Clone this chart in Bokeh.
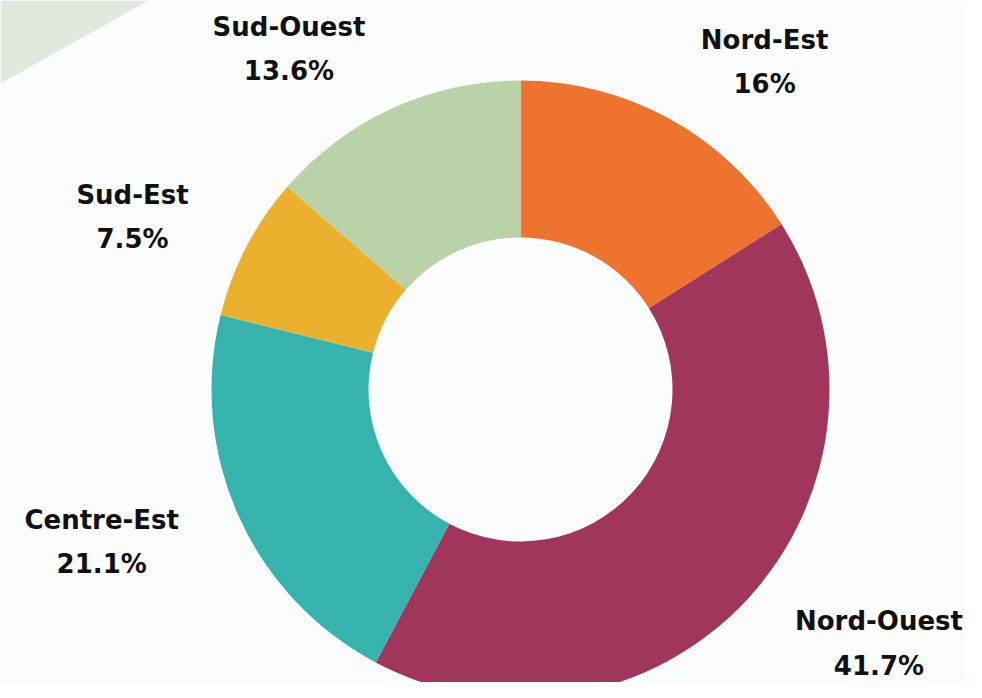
import math
from bokeh.plotting import figure
from bokeh.models import Range1d, ColumnDataSource
from bokeh.core.properties import value
from bokeh.embed import file_html
from bokeh.resources import INLINE

regions = ["Nord-Est", "Nord-Ouest", "Centre-Est", "Sud-Est", "Sud-Ouest"]
shares = [16, 41.7, 21.1, 7.5, 13.6]
colors = ["#ee732e", "#a0365b", "#36b3ad", "#ebb02d", "#b9d2a8"]

W, H = 966, 682
CX, CY = 520, 389          # pixel position of the donut centre inside the figure
R_OUT, R_IN = 309, 152
R_LABEL = 374

total = sum(shares)
starts, ends, mids = [], [], []
cum = 0.0
for v in shares:
    a0 = math.pi / 2 - 2 * math.pi * cum / total
    cum += v
    a1 = math.pi / 2 - 2 * math.pi * cum / total
    starts.append(a0)
    ends.append(a1)
    mids.append((a0 + a1) / 2)

lx = [R_LABEL * math.cos(m) for m in mids]
ly = [R_LABEL * math.sin(m) for m in mids]
anchors = ["center_left" if math.cos(m) >= 0 else "center_right" for m in mids]
labels = [f"{r}\n{v:g}%" for r, v in zip(regions, shares)]

src = ColumnDataSource(dict(start=starts, end=ends, color=colors,
                            lx=lx, ly=ly, anchor=anchors, label=labels))

p = figure(width=W, height=H, output_backend="svg", toolbar_location=None,
           x_range=Range1d(-CX, W - CX), y_range=Range1d(-(H - CY), CY),
           min_border=0, background_fill_color="#fafdfc",
           border_fill_color="#fafdfc", outline_line_color=None)
p.axis.visible = False
p.grid.visible = False

# decorative corner band
p.patch([-CX, -CX + 148, -CX], [CY, CY, CY - 83],
        fill_color="#e1e9df", line_color=None)

p.annular_wedge(x=0, y=0, inner_radius=R_IN, outer_radius=R_OUT,
                start_angle="start", end_angle="end", direction="clock",
                fill_color="color", line_color=None, source=src)

p.text(x="lx", y="ly", text="label", anchor="anchor", source=src,
       text_align="center", text_baseline="middle",
       text_font=value("DejaVu Sans"), text_font_style="bold",
       text_font_size="26px", text_color="#111111", text_line_height=1.48)

open("out.html", "w").write(file_html(p, INLINE))
